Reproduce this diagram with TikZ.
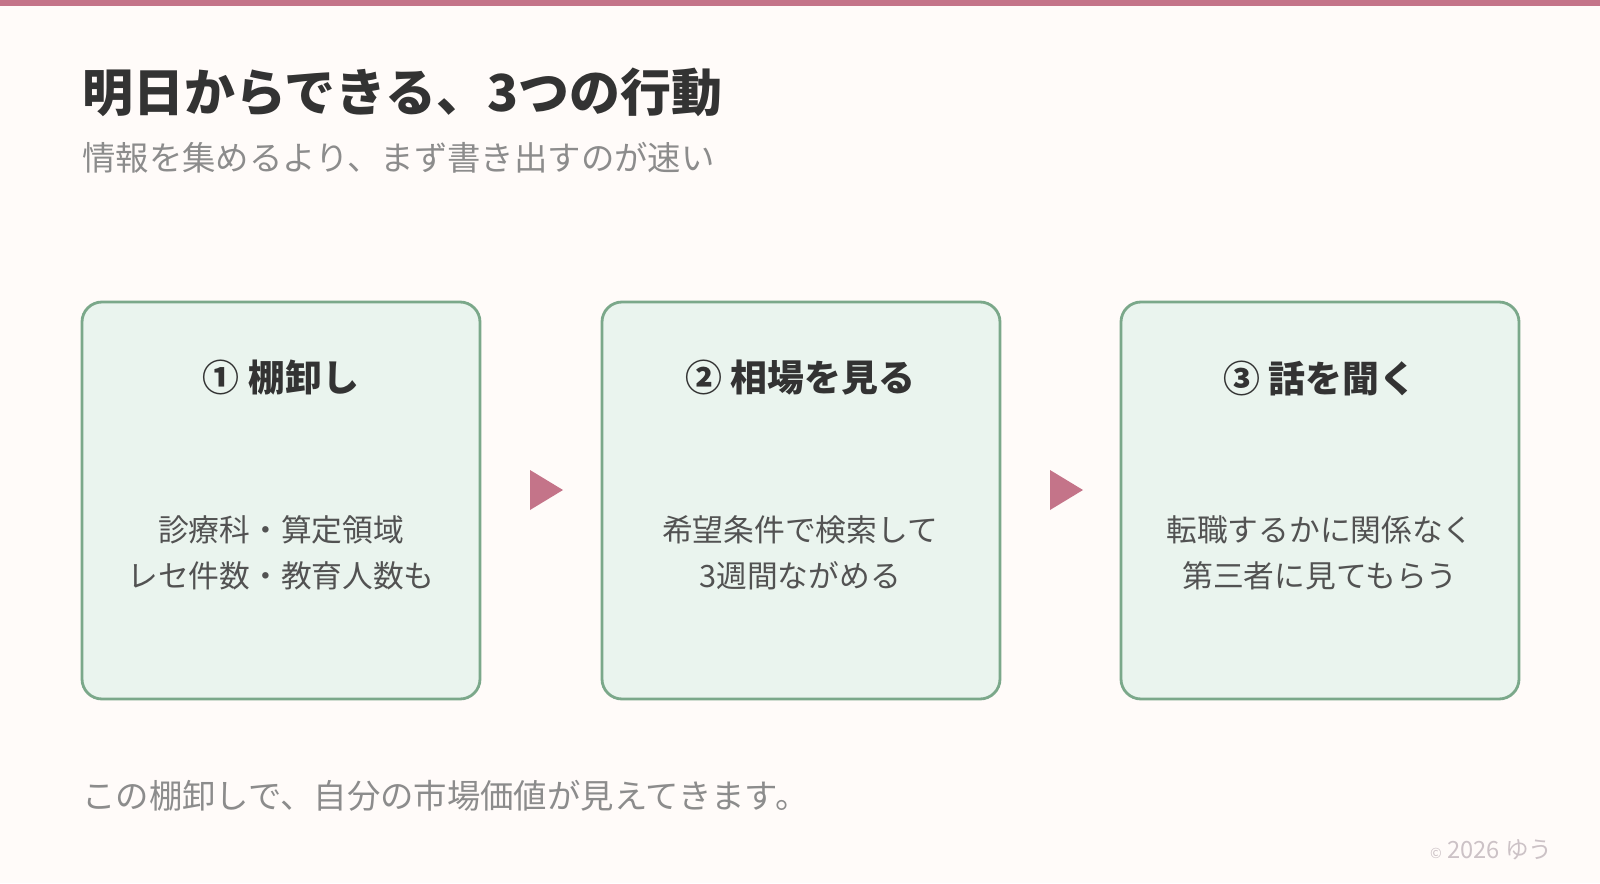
\documentclass[tikz,border=0pt]{standalone}
\usepackage{fontspec}
\setmainfont{Noto Sans CJK JP}
\newfontfamily\jpb{Noto Sans CJK JP}[BoldFont={* Bold}]
\definecolor{bg}{HTML}{FFFBF9}
\definecolor{rose}{HTML}{C47489}
\definecolor{dark}{HTML}{333333}
\definecolor{gray1}{HTML}{8C8C8C}
\definecolor{gray2}{HTML}{CCC2C6}
\definecolor{gline}{HTML}{7BA88A}
\definecolor{gfill}{HTML}{EAF4EE}
\begin{document}
\begin{tikzpicture}[x=0.02cm,y=-0.02cm,
  box/.style={draw=gline,fill=gfill,line width=1.6pt,rounded corners=0.4cm},
  head/.style={font=\fontsize{21}{25}\selectfont\bfseries,text=dark},
  body/.style={font=\fontsize{17.5}{26}\selectfont,text=dark!85,align=center},
  tri/.style={fill=rose}]
\fill[bg] (0,0) rectangle (1600,883);
\useasboundingbox (0,0) rectangle (1600,883);
\fill[rose] (0,0) rectangle (1600,6);
\node[anchor=west,inner sep=0,font=\fontsize{29}{34}\selectfont\bfseries,text=dark] (title) at (82,92) {明日からできる、3つの行動};
\node[anchor=west,inner sep=0,font=\fontsize{19}{23}\selectfont,text=gray1] (sub) at (82,158) {情報を集めるより、まず書き出すのが速い};
\foreach \n/\x in {a/82,b/602,c/1121}{
  \draw[box] (\x,302) rectangle +(398,397);
}
\node[head] (ha) at (281,378) {① 棚卸し};
\node[head] (hb) at (800,378) {② 相場を見る};
\node[head] (hc) at (1320,378) {③ 話を聞く};
\node[body] (ba) at (281,553) {診療科・算定領域\\レセ件数・教育人数も};
\node[body] (bb) at (800,553) {希望条件で検索して\\3週間ながめる};
\node[body] (bc) at (1320,553) {転職するかに関係なく\\第三者に見てもらう};
\fill[tri] (530,470) -- (563,490) -- (530,510) -- cycle;
\fill[tri] (1050,470) -- (1083,490) -- (1050,510) -- cycle;
\node[anchor=west,inner sep=0,font=\fontsize{19}{23}\selectfont,text=gray1] (foot) at (82,796) {この棚卸しで、自分の市場価値が見えてきます。};
\node[anchor=east,inner sep=0,font=\fontsize{13.5}{16}\selectfont,text=gray2] (copy) at (1553,850) {{\fontsize{8}{10}\selectfont ©} 2026 ゆう};
\end{tikzpicture}
\end{document}
